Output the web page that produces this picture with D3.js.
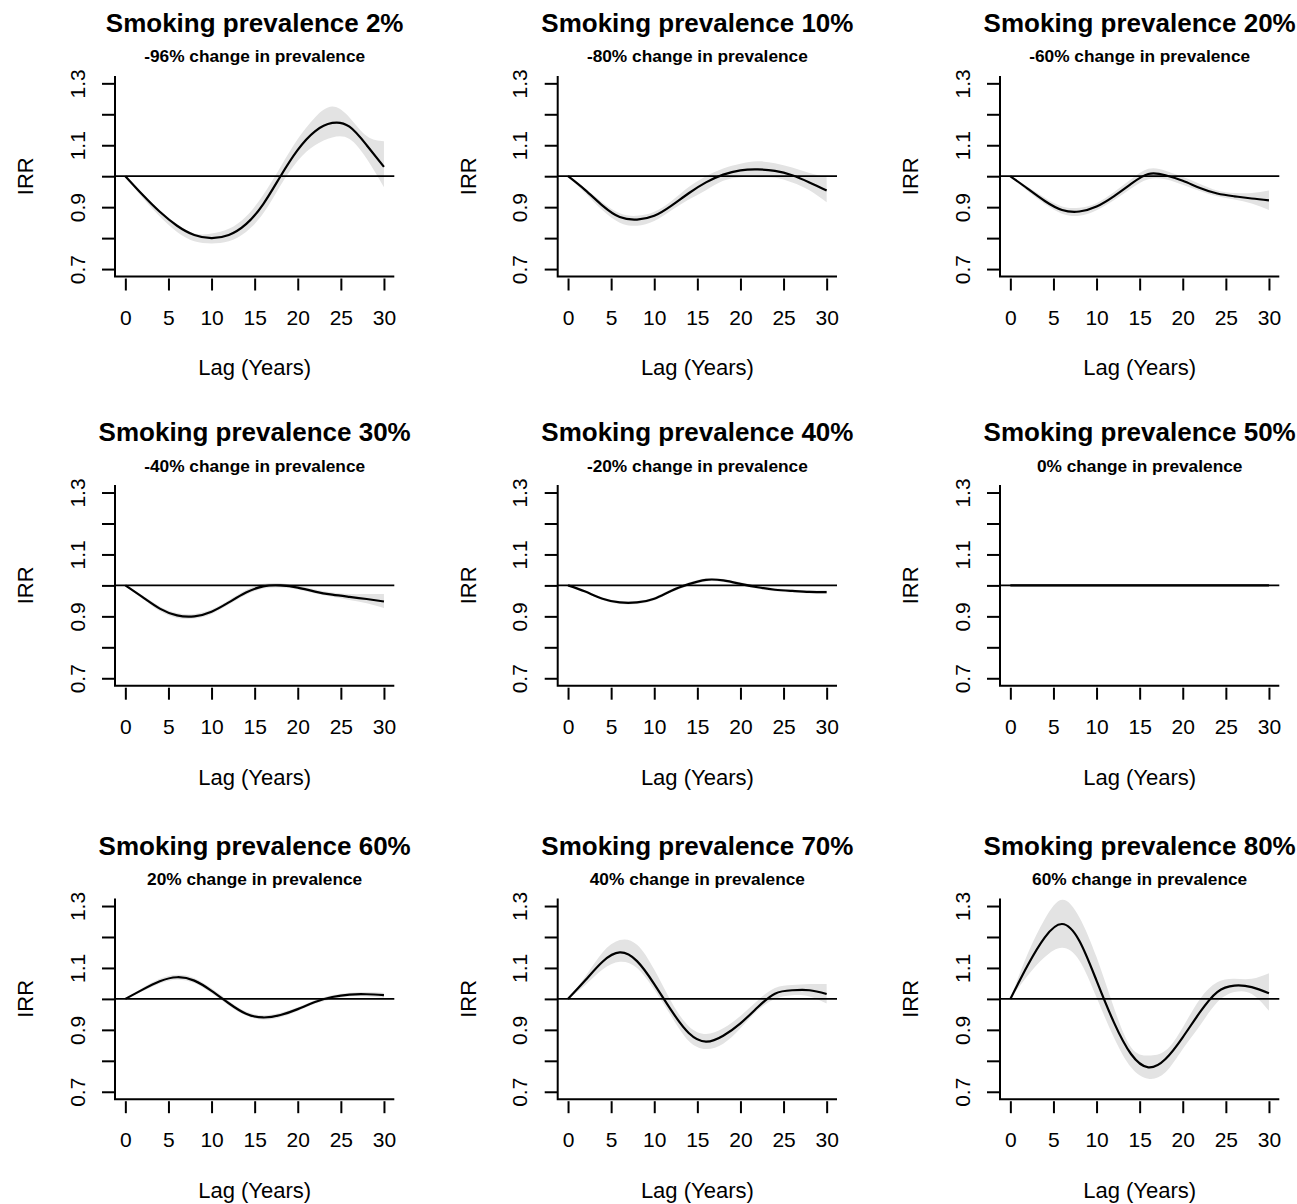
<!DOCTYPE html>
<html>
<head>
<meta charset="utf-8">
<script src="https://cdn.jsdelivr.net/npm/d3@7"></script>
<style>
  body { margin: 0; background: #fff; }
  svg text { font-family: "Liberation Sans", Arial, sans-serif; fill: #000; }
</style>
</head>
<body>
<svg width="1297" height="1204"></svg>
<script>
// lag grid (years) the curves are read at
var lags = [0, 2, 4, 6, 8, 10, 12, 14, 16, 18, 20, 22, 24, 26, 28, 30];

var prevalence = [2, 10, 20, 30, 40, 50, 60, 70, 80];
var change = [-96, -80, -60, -40, -20, 0, 20, 40, 60];

// IRR estimate + 95% band, one set per panel
var est2 = [1.0, 0.94, 0.885, 0.84, 0.81, 0.80, 0.81, 0.845, 0.91, 1.0, 1.085, 1.145, 1.172, 1.16, 1.10, 1.03];
var lo2  = [1.0, 0.93, 0.87, 0.82, 0.79, 0.783, 0.79, 0.82, 0.88, 0.97, 1.05, 1.10, 1.125, 1.12, 1.056, 0.964];
var hi2  = [1.0, 0.945, 0.89, 0.845, 0.815, 0.815, 0.83, 0.87, 0.94, 1.03, 1.12, 1.19, 1.225, 1.19, 1.13, 1.113];

var est10 = [1.0, 0.955, 0.905, 0.868, 0.86, 0.872, 0.905, 0.945, 0.98, 1.005, 1.019, 1.022, 1.017, 1.003, 0.98, 0.954];
var lo10  = [1.0, 0.945, 0.89, 0.85, 0.84, 0.855, 0.89, 0.925, 0.955, 0.985, 0.997, 0.997, 0.995, 0.98, 0.955, 0.916];
var hi10  = [1.0, 0.96, 0.915, 0.88, 0.872, 0.885, 0.92, 0.965, 1.0, 1.025, 1.04, 1.048, 1.042, 1.028, 1.01, 0.997];

var est20 = [1.0, 0.96, 0.92, 0.891, 0.886, 0.902, 0.935, 0.975, 1.007, 1.003, 0.985, 0.962, 0.944, 0.935, 0.928, 0.922];
var lo20  = [1.0, 0.952, 0.91, 0.879, 0.872, 0.89, 0.922, 0.96, 0.99, 0.99, 0.972, 0.952, 0.935, 0.925, 0.912, 0.891];
var hi20  = [1.0, 0.966, 0.93, 0.902, 0.898, 0.913, 0.948, 0.99, 1.024, 1.018, 0.998, 0.975, 0.954, 0.946, 0.946, 0.954];

var est30 = [1.0, 0.962, 0.925, 0.903, 0.90, 0.915, 0.945, 0.977, 0.997, 1.0, 0.993, 0.98, 0.97, 0.963, 0.956, 0.948];
var lo30  = [1.0, 0.957, 0.917, 0.895, 0.893, 0.908, 0.938, 0.97, 0.99, 0.993, 0.987, 0.974, 0.963, 0.953, 0.942, 0.927];
var hi30  = [1.0, 0.967, 0.932, 0.911, 0.908, 0.922, 0.952, 0.985, 1.005, 1.007, 0.999, 0.987, 0.977, 0.972, 0.972, 0.972];

var est40 = [1.0, 0.98, 0.957, 0.945, 0.945, 0.957, 0.983, 1.004, 1.018, 1.016, 1.005, 0.994, 0.986, 0.982, 0.979, 0.978];
var lo40  = [1.0, 0.977, 0.953, 0.94, 0.94, 0.952, 0.978, 0.999, 1.013, 1.011, 1.0, 0.989, 0.981, 0.977, 0.974, 0.973];
var hi40  = [1.0, 0.983, 0.961, 0.95, 0.95, 0.962, 0.988, 1.009, 1.023, 1.021, 1.01, 0.999, 0.991, 0.987, 0.984, 0.984];

var est50 = [1, 1, 1, 1, 1, 1, 1, 1, 1, 1, 1, 1, 1, 1, 1, 1];
var lo50  = [1, 1, 1, 1, 1, 1, 1, 1, 1, 1, 1, 1, 1, 1, 1, 1];
var hi50  = [1, 1, 1, 1, 1, 1, 1, 1, 1, 1, 1, 1, 1, 1, 1, 1];

var est60 = [1.0, 1.03, 1.057, 1.07, 1.059, 1.026, 0.986, 0.952, 0.94, 0.948, 0.967, 0.99, 1.006, 1.014, 1.015, 1.012];
var lo60  = [1.0, 1.025, 1.05, 1.062, 1.051, 1.018, 0.979, 0.946, 0.933, 0.941, 0.961, 0.984, 1.0, 1.008, 1.008, 1.004];
var hi60  = [1.0, 1.036, 1.065, 1.078, 1.067, 1.034, 0.993, 0.959, 0.947, 0.955, 0.973, 0.996, 1.012, 1.02, 1.022, 1.02];

var est70 = [1.0, 1.06, 1.12, 1.15, 1.122, 1.048, 0.962, 0.89, 0.862, 0.881, 0.921, 0.973, 1.017, 1.028, 1.028, 1.016];
var lo70  = [1.0, 1.045, 1.095, 1.12, 1.10, 1.03, 0.943, 0.864, 0.838, 0.855, 0.905, 0.963, 1.0, 1.012, 1.008, 0.985];
var hi70  = [1.0, 1.072, 1.15, 1.19, 1.175, 1.095, 0.99, 0.912, 0.887, 0.905, 0.945, 0.995, 1.035, 1.045, 1.048, 1.048];

var est80 = [1.0, 1.108, 1.199, 1.242, 1.188, 1.059, 0.925, 0.822, 0.779, 0.806, 0.876, 0.957, 1.022, 1.043, 1.038, 1.018];
var lo80  = [1.0, 1.075, 1.135, 1.165, 1.124, 1.005, 0.876, 0.779, 0.742, 0.763, 0.838, 0.914, 0.989, 1.022, 1.016, 0.962];
var hi80  = [1.0, 1.145, 1.258, 1.32, 1.264, 1.135, 0.973, 0.844, 0.817, 0.833, 0.908, 1.0, 1.054, 1.065, 1.065, 1.083];

var estimates = [est2, est10, est20, est30, est40, est50, est60, est70, est80];
var lowers = [lo2, lo10, lo20, lo30, lo40, lo50, lo60, lo70, lo80];
var uppers = [hi2, hi10, hi20, hi30, hi40, hi50, hi60, hi70, hi80];

var xTicks = [0, 5, 10, 15, 20, 25, 30];
var yTicks = [0.7, 0.8, 0.9, 1.0, 1.1, 1.2, 1.3];
var yLabelled = [0.7, 0.9, 1.1, 1.3];

// layout
var svg = d3.select("svg");
var colLeft = [115, 557.7, 1000];
var rowTop = [75.9, 485.1, 898.6];
var plotW = 279.3, plotH = 200.6;

var x = d3.scaleLinear().domain([-1.2, 31.2]).range([0, plotW]);
var y = d3.scaleLinear().domain([0.676, 1.324]).range([plotH, 0]);

var line = d3.line()
    .x(function (d) { return x(d.lag); })
    .y(function (d) { return y(d.v); })
    .curve(d3.curveNatural);

var area = d3.area()
    .x(function (d) { return x(d.lag); })
    .y0(function (d) { return y(d.lo); })
    .y1(function (d) { return y(d.hi); })
    .curve(d3.curveNatural);

prevalence.forEach(function (p, i) {
    var g = svg.append("g")
        .attr("transform", "translate(" + colLeft[i % 3] + "," + rowTop[Math.floor(i / 3)] + ")");

    var pts = lags.map(function (l, j) {
        return { lag: l, v: estimates[i][j], lo: lowers[i][j], hi: uppers[i][j] };
    });

    // confidence band
    g.append("path").datum(pts)
        .attr("d", area)
        .attr("fill", "#e3e3e3");

    // reference line IRR = 1
    g.append("line")
        .attr("x1", 0).attr("x2", plotW)
        .attr("y1", y(1)).attr("y2", y(1))
        .attr("stroke", "#000").attr("stroke-width", 1.8);

    g.append("path").datum(pts)
        .attr("d", line)
        .attr("fill", "none")
        .attr("stroke", "#000")
        .attr("stroke-width", 2.2);

    // L shaped box
    g.append("path")
        .attr("d", "M0,0V" + plotH + "H" + plotW)
        .attr("fill", "none")
        .attr("stroke", "#000")
        .attr("stroke-width", 2);

    // y axis
    var ya = g.append("g")
        .call(d3.axisLeft(y).tickValues(yTicks).tickSize(13)
            .tickFormat(function (d) { return yLabelled.indexOf(d) >= 0 ? d3.format(".1f")(d) : ""; }));
    ya.select(".domain").remove();
    ya.selectAll("line").attr("stroke-width", 2);
    ya.selectAll("text")
        .attr("transform", "rotate(-90)")
        .attr("x", 0).attr("y", -30.5).attr("dy", 0)
        .attr("text-anchor", "middle")
        .style("font-size", "21px");

    // x axis
    var xa = g.append("g")
        .attr("transform", "translate(0," + (plotH + 2) + ")")
        .call(d3.axisBottom(x).tickValues(xTicks).tickSize(12));
    xa.select(".domain").remove();
    xa.selectAll("line").attr("stroke-width", 2);
    xa.selectAll("text")
        .attr("y", 46).attr("dy", 0)
        .style("font-size", "21px");

    // titles
    g.append("text")
        .attr("x", plotW / 2).attr("y", -44)
        .attr("text-anchor", "middle")
        .style("font-size", "26px").style("font-weight", "bold")
        .text("Smoking prevalence " + p + "%");

    g.append("text")
        .attr("x", plotW / 2).attr("y", -13.6)
        .attr("text-anchor", "middle")
        .style("font-size", "17.3px").style("font-weight", "bold")
        .text(change[i] + "% change in prevalence");

    g.append("text")
        .attr("x", plotW / 2).attr("y", plotH + 99)
        .attr("text-anchor", "middle")
        .style("font-size", "22px")
        .text("Lag (Years)");

    g.append("text")
        .attr("transform", "translate(-82,"+ y(1) + ") rotate(-90)")
        .attr("text-anchor", "middle")
        .style("font-size", "22px")
        .text("IRR");
});
</script>
</body>
</html>
